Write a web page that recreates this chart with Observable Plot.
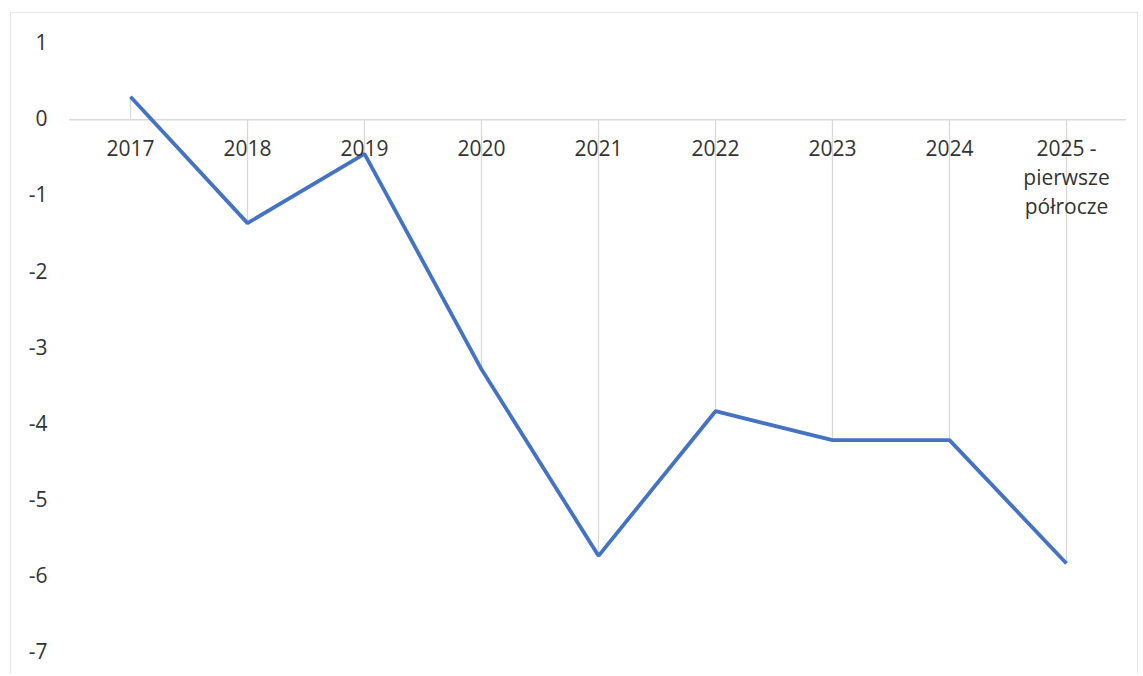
<!DOCTYPE html>
<html>
<head>
<meta charset="utf-8">
<script src="https://cdn.jsdelivr.net/npm/d3@7"></script>
<script src="https://cdn.jsdelivr.net/npm/@observablehq/plot@0.6"></script>
<style>
  html, body { margin: 0; padding: 0; background: #fff; }
  #wrap { position: relative; width: 1143px; height: 676px; }
  #border { position: absolute; left: 10px; top: 12px; width: 1128px; height: 662px; border: 1.5px solid #e6e6e6; border-bottom: none; box-sizing: border-box; pointer-events: none; }
</style>
</head>
<body>
<div id="wrap"><div id="border"></div><div id="chart"></div></div>
<script>
const categories = ["2017", "2018", "2019", "2020", "2021", "2022", "2023", "2024", "2025 -\npierwsze\npółrocze"];
const values = [0.30, -1.36, -0.45, -3.28, -5.73, -3.83, -4.21, -4.21, -5.83];
const yTicks = [1, 0, -1, -2, -3, -4, -5, -6, -7];

const data = categories.map((c, i) => ({category: c, value: values[i]}));
const fmt = d => d < 0 ? "-" + Math.abs(d) : String(d);

const chart = Plot.plot({
  width: 1143,
  height: 676,
  marginLeft: 69,
  marginRight: 17,
  marginTop: 43,
  marginBottom: 24,
  style: {fontFamily: "'Open Sans', sans-serif", fontSize: "21px", color: "#333", background: "transparent"},
  x: {type: "point", domain: categories, padding: 0.5, axis: null},
  y: {domain: [-7, 1], ticks: yTicks, label: null, axis: null},
  marks: [
    Plot.ruleY([0], {stroke: "#d9d9d9", strokeWidth: 1.5}),
    Plot.ruleX(data, {x: "category", y1: 0, y2: "value", stroke: "#d9d9d9", strokeWidth: 1.3}),
    Plot.axisY({ticks: yTicks, tickSize: 0, tickPadding: 22, fontSize: 21, fill: "#333", label: null, tickFormat: fmt}),
    Plot.line(data, {x: "category", y: "value", stroke: "#4472C4", strokeWidth: 3.8, strokeLinejoin: "miter", strokeLinecap: "butt"}),
    Plot.text(data, {x: "category", y: () => 0, text: "category", dy: 15, lineAnchor: "top", lineHeight: 1.4, fontSize: 21, fill: "#333"})
  ]
});
document.getElementById("chart").appendChild(chart);
</script>
</body>
</html>
